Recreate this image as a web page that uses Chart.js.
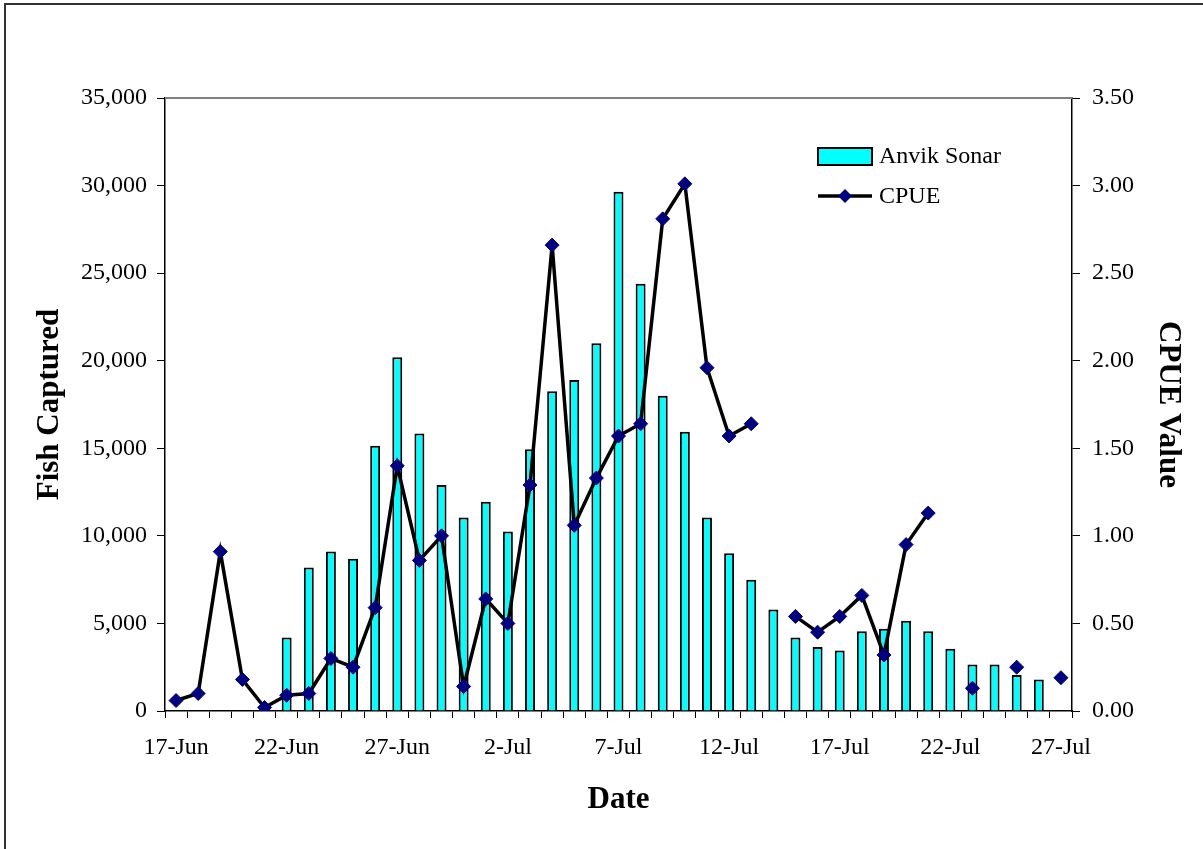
<!DOCTYPE html>
<html>
<head>
<meta charset="utf-8">
<script src="https://cdn.jsdelivr.net/npm/chart.js"></script>
<style>
  html, body { margin: 0; padding: 0; background: #fff; }
  #wrap { position: relative; width: 1203px; height: 849px; }
</style>
</head>
<body>
<div id="wrap"><canvas id="fishchart" width="1203" height="849"></canvas></div>
<script>
// daily dates 17-Jun .. 27-Jul
var dayLabels = [
  '17-Jun','18-Jun','19-Jun','20-Jun','21-Jun','22-Jun','23-Jun','24-Jun','25-Jun','26-Jun',
  '27-Jun','28-Jun','29-Jun','30-Jun','1-Jul','2-Jul','3-Jul','4-Jul','5-Jul','6-Jul',
  '7-Jul','8-Jul','9-Jul','10-Jul','11-Jul','12-Jul','13-Jul','14-Jul','15-Jul','16-Jul',
  '17-Jul','18-Jul','19-Jul','20-Jul','21-Jul','22-Jul','23-Jul','24-Jul','25-Jul','26-Jul',
  '27-Jul'
];
// only every 5th day gets a label
var shownLabels = ['17-Jun','22-Jun','27-Jun','2-Jul','7-Jul','12-Jul','17-Jul','22-Jul','27-Jul'];

var sonarCounts = [
  null, null, null, null, null, 4200, 8200, 9100, 8700, 15150,
  20200, 15850, 12900, 11050, 11950, 10250, 14950, 18250, 18900, 21000,
  29650, 24400, 18000, 15950, 11050, 9000, 7500, 5800, 4200, 3650,
  3450, 4550, 4700, 5150, 4550, 3550, 2650, 2650, 2050, 1800,
  null
];
var cpueValues = [
  0.06, 0.10, 0.91, 0.18, 0.02, 0.09, 0.10, 0.30, 0.25, 0.59,
  1.40, 0.86, 1.00, 0.14, 0.64, 0.50, 1.29, 2.66, 1.06, 1.33,
  1.57, 1.64, 2.81, 3.01, 1.96, 1.57, 1.64, null, 0.54, 0.45,
  0.54, 0.66, 0.32, 0.95, 1.13, null, 0.13, null, 0.25, null,
  0.19
];

var serif = '"Liberation Serif", "Times New Roman", serif';

// grey top border of the plot area, outer frame and the legend
var extrasPlugin = {
  id: 'extras',
  afterDraw: function(chart) {
    var c = chart.ctx, a = chart.chartArea;
    c.save();
    c.strokeStyle = '#808080';
    c.lineWidth = 2;
    c.beginPath();
    c.moveTo(a.left, a.top);
    c.lineTo(a.right, a.top);
    c.stroke();

    c.strokeStyle = '#333';
    c.lineWidth = 2;
    c.beginPath();
    c.moveTo(5, 849);
    c.lineTo(5, 4);
    c.lineTo(1203, 4);
    c.stroke();

    // legend
    var lx = a.left + 653, ly = a.top + 58;
    c.fillStyle = '#00FFFF';
    c.strokeStyle = '#000';
    c.lineWidth = 2;
    c.fillRect(lx, ly - 8, 54, 17);
    c.strokeRect(lx, ly - 8, 54, 17);
    c.beginPath();
    c.lineWidth = 3.5;
    c.moveTo(lx, ly + 40);
    c.lineTo(lx + 54, ly + 40);
    c.stroke();
    c.fillStyle = '#000080';
    c.beginPath();
    c.moveTo(lx + 27, ly + 33);
    c.lineTo(lx + 34, ly + 40);
    c.lineTo(lx + 27, ly + 47);
    c.lineTo(lx + 20, ly + 40);
    c.closePath();
    c.fill();
    c.fillStyle = '#000';
    c.font = '24px ' + serif;
    c.textBaseline = 'middle';
    c.fillText('Anvik Sonar', lx + 61, ly + 1);
    c.fillText('CPUE', lx + 61, ly + 41);
    c.restore();
  }
};

var ctx = document.getElementById('fishchart').getContext('2d');
var fishchart = new Chart(ctx, {
  type: 'bar',
  data: {
    labels: dayLabels,
    datasets: [{
      type: 'line',
      label: 'CPUE',
      data: cpueValues,
      yAxisID: 'yRight',
      borderColor: '#000',
      borderWidth: 3.5,
      pointStyle: 'rectRot',
      pointRadius: 7,
      pointBackgroundColor: '#000080',
      pointBorderColor: '#000080',
      pointBorderWidth: 1,
      spanGaps: false,
      tension: 0,
      order: 0
    }, {
      label: 'Anvik Sonar',
      data: sonarCounts,
      yAxisID: 'yLeft',
      backgroundColor: '#00FFFF',
      borderColor: '#000',
      borderWidth: 2,
      barPercentage: 0.45,
      categoryPercentage: 1,
      order: 1
    }]
  },
  options: {
    responsive: false,
    animation: false,
    layout: { padding: { top: 98, left: 0, right: 0, bottom: 0 } },
    plugins: {
      legend: { display: false },
      tooltip: { enabled: false }
    },
    scales: {
      x: {
        offset: true,
        grid: { offset: true, drawOnChartArea: false, color: '#000', tickLength: 7, lineWidth: 1 },
        border: { color: '#000', width: 1.5 },
        ticks: {
          autoSkip: false, maxRotation: 0, padding: 15, color: '#000',
          font: { family: serif, size: 24 },
          callback: function(v, i) {
            var lab = dayLabels[i];
            return shownLabels.indexOf(lab) >= 0 ? lab : '';
          }
        },
        title: { display: true, text: 'Date', color: '#000', font: { family: serif, size: 31, weight: 'bold' }, padding: { top: 0, bottom: 30 } },
        afterFit: function(s) { s.height = 138; }
      },
      yLeft: {
        position: 'left',
        min: 0, max: 35000,
        grid: { drawOnChartArea: false, color: '#000', tickLength: 8 },
        border: { color: '#000', width: 1.5 },
        ticks: {
          stepSize: 5000, padding: 10, color: '#000',
          font: { family: serif, size: 24 },
          callback: function(v) { return v.toLocaleString('en-US'); }
        },
        title: { display: true, text: 'Fish Captured', color: '#000', font: { family: serif, size: 31, weight: 'bold' }, padding: { top: 31, bottom: 0 } },
        afterFit: function(s) { s.width = 165; }
      },
      yRight: {
        position: 'right',
        min: 0, max: 3.5,
        grid: { drawOnChartArea: false, color: '#000', tickLength: 8 },
        border: { color: '#000', width: 1.5 },
        ticks: {
          stepSize: 0.5, padding: 12, color: '#000',
          font: { family: serif, size: 24 },
          callback: function(v) { return v.toFixed(2); }
        },
        title: { display: true, text: 'CPUE Value', color: '#000', font: { family: serif, size: 31, weight: 'bold' }, padding: { top: 16, bottom: 0 } },
        afterFit: function(s) { s.width = 131; }
      }
    }
  },
  plugins: [extrasPlugin]
});
</script>
</body>
</html>
